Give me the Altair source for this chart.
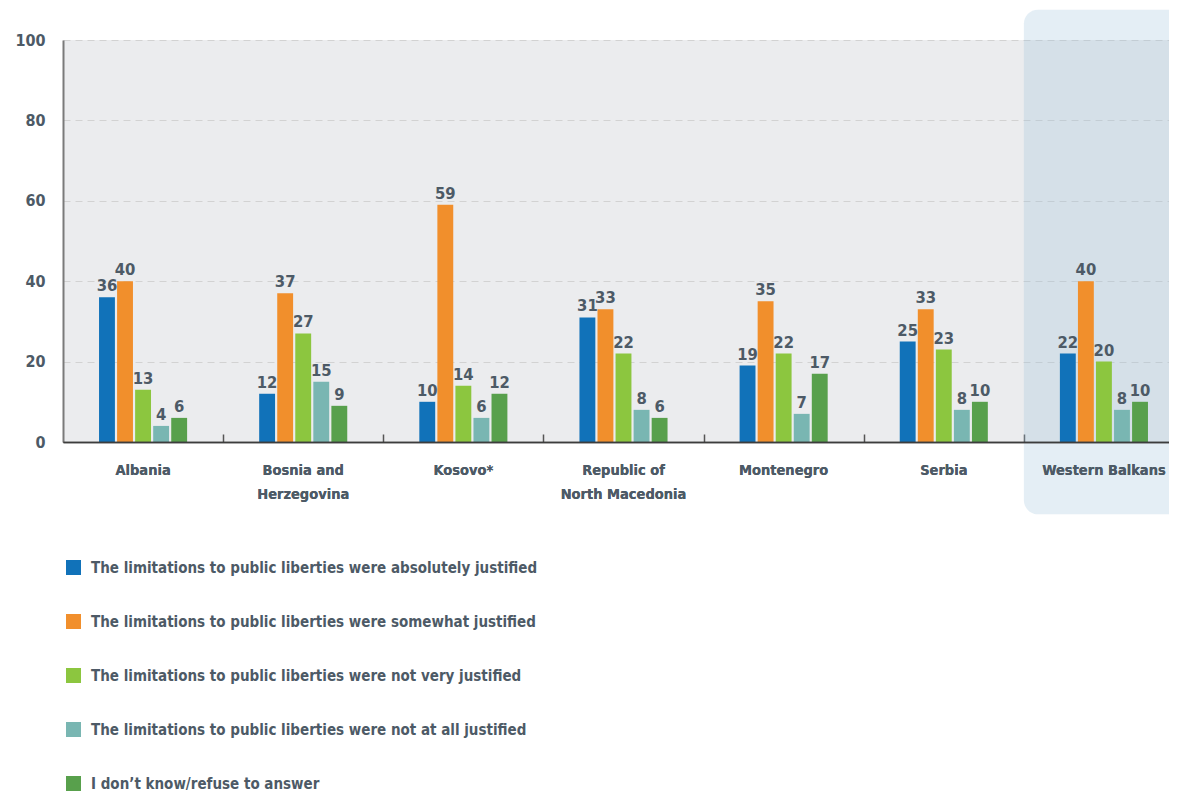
import altair as alt
import pandas as pd

countries = ["Albania", "Bosnia and Herzegovina", "Kosovo*", "Republic of North Macedonia",
             "Montenegro", "Serbia", "Western Balkans"]
series = [
    "The limitations to public liberties were absolutely justified",
    "The limitations to public liberties were somewhat justified",
    "The limitations to public liberties were not very justified",
    "The limitations to public liberties were not at all justified",
    "I don\u2019t know/refuse to answer",
]
absolutely = [36, 12, 10, 31, 19, 25, 22]
somewhat = [40, 37, 59, 33, 35, 33, 40]
not_very = [13, 27, 14, 22, 22, 23, 20]
not_at_all = [4, 15, 6, 8, 7, 8, 8]
dont_know = [6, 9, 12, 6, 17, 10, 10]
colors = ["#1172b9", "#f18f2c", "#8cc63f", "#79b6b2", "#58a04c"]
highlight_country = ["Western Balkans"]
highlight_top = [107.5]
highlight_bottom = [-18]

rows = []
for s, vals in zip(series, [absolutely, somewhat, not_very, not_at_all, dont_know]):
    for c, v in zip(countries, vals):
        rows.append({"country": c, "series": s, "value": v})
df = pd.DataFrame(rows)
hl = pd.DataFrame({"country": highlight_country, "top": highlight_top, "bottom": highlight_bottom})

FONT = "Liberation Sans Narrow, DejaVu Sans Condensed, sans-serif"
TXT = "#4d5a66"
PI = 0.45
W = 1121

xscale = alt.Scale(domain=countries, paddingInner=PI, paddingOuter=PI / 2)
yscale = alt.Scale(domain=[0, 100], nice=False, zero=True)

label_expr = ("datum.label == 'Bosnia and Herzegovina' ? ['Bosnia and', 'Herzegovina'] : "
              "datum.label == 'Republic of North Macedonia' ? ['Republic of', 'North Macedonia'] : datum.label")

main_x_axis = alt.Axis(title=None, orient="bottom", labelAngle=0, ticks=False, labelPadding=21,
                       labelFont=FONT, labelFontSize=14.5, labelFontWeight="bold", labelColor=TXT,
                       labelLineHeight=24, labelExpr=label_expr, labelLimit=300,
                       domainColor="#3d3d3d", domainWidth=1.5, grid=False, zindex=1)

y_axis = alt.Axis(title=None, values=[0, 20, 40, 60, 80, 100], ticks=False, labelPadding=18,
                  labelFont=FONT, labelFontSize=16, labelFontWeight="bold", labelColor=TXT,
                  domainColor="#7a7a7a", domainWidth=2, gridColor="#d2d2d2", gridDash=[7, 5],
                  gridWidth=1, zindex=0)

highlight = alt.Chart(hl).mark_bar(
    color="#9ec2db", opacity=0.28, cornerRadius=14, clip=False, width={"band": 1 / (1 - PI)}
).encode(
    x=alt.X("country:N", scale=xscale, axis=main_x_axis, sort=countries),
    y=alt.Y("top:Q", scale=yscale, axis=y_axis),
    y2="bottom:Q",
)

bars = alt.Chart(df).mark_bar().encode(
    x=alt.X("country:N", scale=xscale, axis=main_x_axis, sort=countries),
    xOffset=alt.XOffset("series:N", sort=series, scale=alt.Scale(paddingInner=0.12)),
    y=alt.Y("value:Q", scale=yscale, axis=y_axis),
    color=alt.Color("series:N", sort=series, scale=alt.Scale(domain=series, range=colors),
                    legend=alt.Legend(title=None, orient="none", legendX=3, legendY=520,
                                      direction="vertical", symbolType="square", symbolSize=225,
                                      symbolStrokeWidth=0, labelFont=FONT, labelFontSize=15,
                                      labelFontWeight="bold", labelColor=TXT, labelLimit=800,
                                      labelOffset=10, rowPadding=38)),
)

labels = alt.Chart(df).mark_text(
    baseline="bottom", dy=-3, font=FONT, fontSize=16.5, fontWeight="bold", color=TXT
).encode(
    x=alt.X("country:N", scale=xscale, sort=countries,
            axis=alt.Axis(title=None, orient="bottom", offset=-8, labels=False, domain=False,
                          ticks=True, tickSize=8, tickOffset=W / 7 / 2, tickColor="#555555",
                          tickWidth=1.5, grid=False)),
    xOffset=alt.XOffset("series:N", sort=series, scale=alt.Scale(paddingInner=0.12)),
    y=alt.Y("value:Q", scale=yscale),
    text="value:Q",
)

chart = alt.layer(highlight, bars, labels).resolve_axis(x="independent").properties(
    width=W, height=402,
    autosize=alt.AutoSizeParams(type="none"),
    padding={"left": 55, "top": 32, "right": -15, "bottom": 351},
).configure_view(fill="#ebecee", stroke=None)

chart.save("out.html", embed_options={"renderer": "svg", "actions": False})
